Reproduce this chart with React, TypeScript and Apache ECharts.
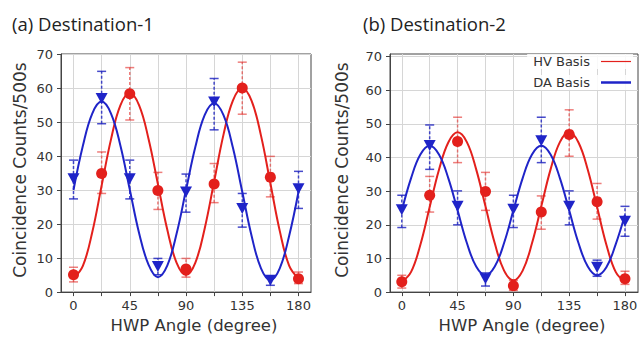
import React, { useEffect, useRef } from "react";
import * as echarts from "echarts";

// HWP angles of the measured points (degrees)
const angles = [0, 22.5, 45, 67.5, 90, 112.5, 135, 157.5, 180];
const fitAngles = [0, 7.5, 15, 22.5, 30, 37.5, 45, 52.5, 60, 67.5, 75, 82.5, 90, 97.5, 105, 112.5, 120, 127.5, 135, 142.5, 150, 157.5, 165, 172.5, 180];
const tickAngles = [0, 22.5, 45, 67.5, 90, 112.5, 135, 157.5, 180];
const labelAngles = [0, 45, 90, 135, 180];
const yTicks = [0, 10, 20, 30, 40, 50, 60, 70];

// (a) Destination-1
const d1Hv = [5.1, 34.9, 58.3, 29.9, 6.8, 31.8, 60, 33.8, 3.9];
const d1HvLow = [3.0, 29, 50.6, 24.3, 4.4, 26.3, 52.3, 28, 2.5];
const d1HvHigh = [7.3, 41.2, 66, 35.2, 9.9, 37.8, 67.6, 39.9, 5.9];
const d1Da = [33.3, 56.9, 33.3, 7.5, 29.4, 55.9, 24.6, 3.5, 30.4];
const d1DaLow = [27.4, 49.5, 27.4, 5.1, 23.5, 47.7, 19.1, 2, 24.6];
const d1DaHigh = [38.8, 64.9, 38.8, 9.9, 34.7, 62.8, 29, 4.7, 35.5];
const d1HvFit = [4, 7.7, 17.6, 31.3, 44.9, 54.9, 58.5, 54.9, 45.1, 31.8, 18.4, 8.6, 5, 8.7, 18.8, 32.5, 46.3, 56.3, 60, 56.2, 46, 32, 18, 7.8, 4];
const d1DaFit = [30, 43, 52.5, 56, 52.5, 43.1, 30.2, 17.3, 8.1, 4.4, 7.8, 17.2, 30, 42.7, 52.1, 55.5, 52, 42.5, 29.5, 16.5, 7, 3.5, 7, 16.5, 29.5];

// (b) Destination-2
const d2Hv = [3.1, 28.8, 44.8, 29.9, 1.9, 23.8, 46.9, 26.9, 4.0];
const d2HvLow = [1.2, 23.8, 38.5, 24.3, 0.5, 18.7, 40.4, 21.7, 2.3];
const d2HvHigh = [5, 34.4, 52, 35.6, 3.5, 28.6, 54.2, 32.3, 6.2];
const d2Da = [24.5, 43.6, 25.5, 4, 24.6, 45, 25.5, 7.4, 21.1];
const d2DaLow = [19.2, 36.5, 20, 1.8, 19.2, 38.5, 20, 4.7, 16.6];
const d2DaHigh = [28.8, 49.7, 30.1, 5.7, 28.8, 52, 30.1, 9.5, 25.5];
const d2HvFit = [3, 6, 14.1, 25.3, 36.4, 44.5, 47.5, 44.6, 36.5, 25.5, 14.5, 6.4, 3.5, 6.4, 14.5, 25.5, 36.5, 44.6, 47.5, 44.5, 36.4, 25.3, 14.1, 6, 3];
const d2DaFit = [24.2, 33.9, 40.9, 43.5, 40.9, 33.9, 24.3, 14.6, 7.6, 5, 7.6, 14.6, 24.3, 33.9, 40.9, 43.5, 40.9, 33.9, 24.3, 14.6, 7.6, 5, 7.4, 14.2, 23];

const RED = "#e3201c";
const BLUE = "#1f24c8";
const RED_ERR = "rgba(227,40,36,0.6)";
const BLUE_ERR = "rgba(25,30,190,0.8)";
const AXIS = "#444";
const TEXT = "#333";
const FONT = "DejaVu Sans";

function errorBarRenderer(color: string) {
  return (params: any, api: any) => {
    const x = api.value(0);
    const lo = api.value(1);
    const hi = api.value(2);
    const pLo = api.coord([x, lo]);
    const pHi = api.coord([x, hi]);
    const hw = 4.5;
    return {
      type: "group",
      children: [
        { type: "line", shape: { x1: pLo[0], y1: pLo[1], x2: pHi[0], y2: pHi[1] }, style: { stroke: color, lineWidth: 1.5, lineDash: [3, 2] } },
        { type: "line", shape: { x1: pLo[0] - hw, y1: pLo[1], x2: pLo[0] + hw, y2: pLo[1] }, style: { stroke: color, lineWidth: 1.5 } },
        { type: "line", shape: { x1: pHi[0] - hw, y1: pHi[1], x2: pHi[0] + hw, y2: pHi[1] }, style: { stroke: color, lineWidth: 1.5 } },
      ],
    };
  };
}

function xAxisFor(gridIndex: number, min: number, max: number) {
  return {
    type: "value",
    gridIndex,
    min,
    max,
    axisLine: { show: true, onZero: false, lineStyle: { color: AXIS, width: 1 } },
    axisTick: { show: true, length: 4, customValues: tickAngles, lineStyle: { color: AXIS } },
    axisLabel: { customValues: labelAngles, margin: 7, fontFamily: FONT, fontSize: 13, color: TEXT },
    splitLine: { show: true, lineStyle: { color: "#d6d6d6", width: 1 } },
    name: "HWP Angle (degree)",
    nameLocation: "middle",
    nameGap: 24,
    nameTextStyle: { fontFamily: FONT, fontSize: 16.5, color: TEXT, padding: [0, 0, 0, 16] },
  };
}

function yAxisFor(gridIndex: number, max: number, gap: number) {
  return {
    type: "value",
    gridIndex,
    min: 0,
    max,
    axisLine: { show: true, onZero: false, lineStyle: { color: AXIS, width: 1 } },
    axisTick: { show: true, length: 4, customValues: yTicks, lineStyle: { color: AXIS } },
    axisLabel: { customValues: yTicks, margin: 8, fontFamily: FONT, fontSize: 13, color: TEXT },
    splitLine: { show: true, lineStyle: { color: "#d6d6d6", width: 1 } },
    name: "Coincidence Counts/500s",
    nameLocation: "middle",
    nameGap: gap,
    nameTextStyle: { fontFamily: FONT, fontSize: 17, color: TEXT, padding: [0, 0, 0, 6] },
  };
}

function seriesFor(idx: number, hv: number[], hvLo: number[], hvHi: number[], da: number[], daLo: number[], daHi: number[], hvFit: number[], daFit: number[]) {
  const common = { xAxisIndex: idx, yAxisIndex: idx };
  return [
    {
      ...common,
      type: "custom",
      name: "HV err " + idx,
      renderItem: errorBarRenderer(RED_ERR),
      encode: { x: 0, y: [1, 2] },
      data: angles.map((a, i) => [a, hvLo[i], hvHi[i]]),
      z: 2,
    },
    {
      ...common,
      type: "custom",
      name: "DA err " + idx,
      renderItem: errorBarRenderer(BLUE_ERR),
      encode: { x: 0, y: [1, 2] },
      data: angles.map((a, i) => [a, daLo[i], daHi[i]]),
      z: 2,
    },
    {
      ...common,
      type: "line",
      name: "HV Basis",
      data: fitAngles.map((a, i) => [a, hvFit[i]]),
      showSymbol: false,
      smooth: 0.4,
      color: RED,
      lineStyle: { color: RED, width: 2 },
      itemStyle: { color: RED },
      z: 3,
    },
    {
      ...common,
      type: "line",
      name: "DA Basis",
      data: fitAngles.map((a, i) => [a, daFit[i]]),
      showSymbol: false,
      smooth: 0.4,
      color: BLUE,
      lineStyle: { color: BLUE, width: 2 },
      itemStyle: { color: BLUE },
      z: 3,
    },
    {
      ...common,
      type: "scatter",
      name: "HV data " + idx,
      data: angles.map((a, i) => [a, hv[i]]),
      symbol: "circle",
      symbolSize: 11,
      itemStyle: { color: RED, opacity: 1 },
      z: 4,
    },
    {
      ...common,
      type: "scatter",
      name: "DA data " + idx,
      data: angles.map((a, i) => [a, da[i]]),
      symbol: "triangle",
      symbolRotate: 180,
      symbolSize: [12, 11],
      itemStyle: { color: BLUE, opacity: 1 },
      z: 4,
    },
  ];
}

export default function App() {
  const ref = useRef<HTMLDivElement>(null);
  useEffect(() => {
    if (!ref.current) return;
    const chart = echarts.init(ref.current, undefined, { renderer: "svg" });
    const legendCommon = {
      right: 8,
      orient: "vertical",
      align: "right",
      icon: "rect",
      itemWidth: 30,
      selectedMode: false,
      backgroundColor: "rgba(255,255,255,0.85)",
      padding: [1, 2, 1, 6],
      textStyle: { fontFamily: FONT, fontSize: 13, color: TEXT, padding: [0, 6, 0, 0] },
    };
    chart.setOption({
      animation: false,
      backgroundColor: "#ffffff",
      title: [
        { text: "(a) Destination-1", left: 12, top: 11, padding: 0, textStyle: { fontFamily: "Open Sans", fontSize: 18.5, fontWeight: "normal", color: "#222", lineHeight: 24 } },
        { text: "(b) Destination-2", left: 363, top: 11, padding: 0, textStyle: { fontFamily: "Open Sans", fontSize: 18.5, fontWeight: "normal", color: "#222", lineHeight: 24 } },
      ],
      legend: [
        { ...legendCommon, data: ["HV Basis"], top: 54, itemHeight: 1.2 },
        { ...legendCommon, data: ["DA Basis"], top: 75, itemHeight: 2.5 },
      ],
      grid: [
        { left: 61, right: 330, top: 54, bottom: 42, show: true, borderColor: AXIS, borderWidth: 1, backgroundColor: "transparent" },
        { left: 390, right: 3, top: 54, bottom: 40, show: true, borderColor: AXIS, borderWidth: 1, backgroundColor: "transparent" },
      ],
      xAxis: [xAxisFor(0, -10, 190), xAxisFor(1, -9.5, 190.5)],
      yAxis: [yAxisFor(0, 70, 33), yAxisFor(1, 70.8, 40)],
      series: [
        ...seriesFor(0, d1Hv, d1HvLow, d1HvHigh, d1Da, d1DaLow, d1DaHigh, d1HvFit, d1DaFit),
        ...seriesFor(1, d2Hv, d2HvLow, d2HvHigh, d2Da, d2DaLow, d2DaHigh, d2HvFit, d2DaFit),
      ],
    });
    return () => chart.dispose();
  }, []);
  return <div ref={ref} style={{ position: "fixed", left: 0, top: 0, width: 641, height: 339 }} />;
}
